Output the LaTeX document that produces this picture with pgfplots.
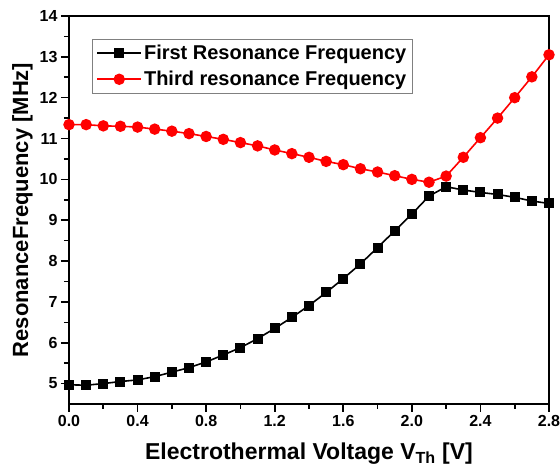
\documentclass[border=0pt]{standalone}
\usepackage{pgfplots}
\pgfplotsset{compat=1.18}
\usepackage{fontspec}
\setmainfont{Liberation Sans}
\begin{document}
\begin{tikzpicture}
\begin{axis}[
  scale only axis,
  width=480pt, height=388pt,
  xmin=0, xmax=2.8, ymin=4.5, ymax=14,
  xtick={0,0.4,...,2.81},
  ytick={5,6,...,14},
  minor x tick num=1,
  minor y tick num=1,
  xtick pos=left, ytick pos=left,
  tick align=outside,
  major tick length=8pt, minor tick length=5pt,
  every tick/.style={black, line width=1.6pt},
  axis line style={line width=2.2pt},
  /pgf/number format/assume math mode=true,
  xticklabel style={/pgf/number format/.cd, fixed, fixed zerofill, precision=1},
  tick label style={font=\fontsize{16}{19}\selectfont\bfseries},
  label style={font=\fontsize{22}{26}\selectfont\bfseries},
  xlabel style={font=\fontsize{23}{27}\selectfont\bfseries, yshift=-9pt},
  xlabel={Electrothermal Voltage V\textsubscript{Th} [V]},
  ylabel={ResonanceFrequency [MHz]},
  ylabel style={yshift=0pt},
  legend style={at={(0.048,0.941)}, anchor=north west, draw=gray, line width=0.8pt,
    font=\fontsize{20}{23}\selectfont\bfseries, inner sep=4pt, row sep=6pt,
    legend cell align=left},
  legend image code/.code={\draw[mark repeat=2,mark phase=2,#1] plot coordinates {(0pt,0pt) (22pt,0pt) (44pt,0pt)};},
]
\addplot[black, line width=1.6pt, mark=square*, mark size=4.2pt, mark options={solid}] coordinates {
(0.0,4.97) (0.1,4.96) (0.2,5.00) (0.3,5.05) (0.4,5.09) (0.5,5.17) (0.6,5.28) (0.7,5.39)
(0.8,5.53) (0.9,5.70) (1.0,5.88) (1.1,6.10) (1.2,6.35) (1.3,6.62) (1.4,6.91) (1.5,7.23)
(1.6,7.57) (1.7,7.93) (1.8,8.33) (1.9,8.74) (2.0,9.15) (2.1,9.59) (2.2,9.82) (2.3,9.74)
(2.4,9.68) (2.5,9.63) (2.6,9.56) (2.7,9.47) (2.8,9.41)};
\addlegendentry{First Resonance Frequency}
\addplot[red, line width=1.6pt, mark=*, mark size=4.9pt, mark options={solid}] coordinates {
(0.0,11.34) (0.1,11.34) (0.2,11.31) (0.3,11.30) (0.4,11.28) (0.5,11.23) (0.6,11.18) (0.7,11.12)
(0.8,11.05) (0.9,10.98) (1.0,10.90) (1.1,10.82) (1.2,10.72) (1.3,10.63) (1.4,10.54) (1.5,10.44)
(1.6,10.36) (1.7,10.26) (1.8,10.18) (1.9,10.09) (2.0,10.00) (2.1,9.93) (2.2,10.08) (2.3,10.54)
(2.4,11.02) (2.5,11.50) (2.6,12.00) (2.7,12.51) (2.8,13.05)};
\addlegendentry{Third resonance Frequency}
\end{axis}
\pgfresetboundingbox
\path ([xshift=-69pt,yshift=-66pt]current axis.south west) rectangle ([xshift=11pt,yshift=16pt]current axis.north east);
\end{tikzpicture}
\end{document}
